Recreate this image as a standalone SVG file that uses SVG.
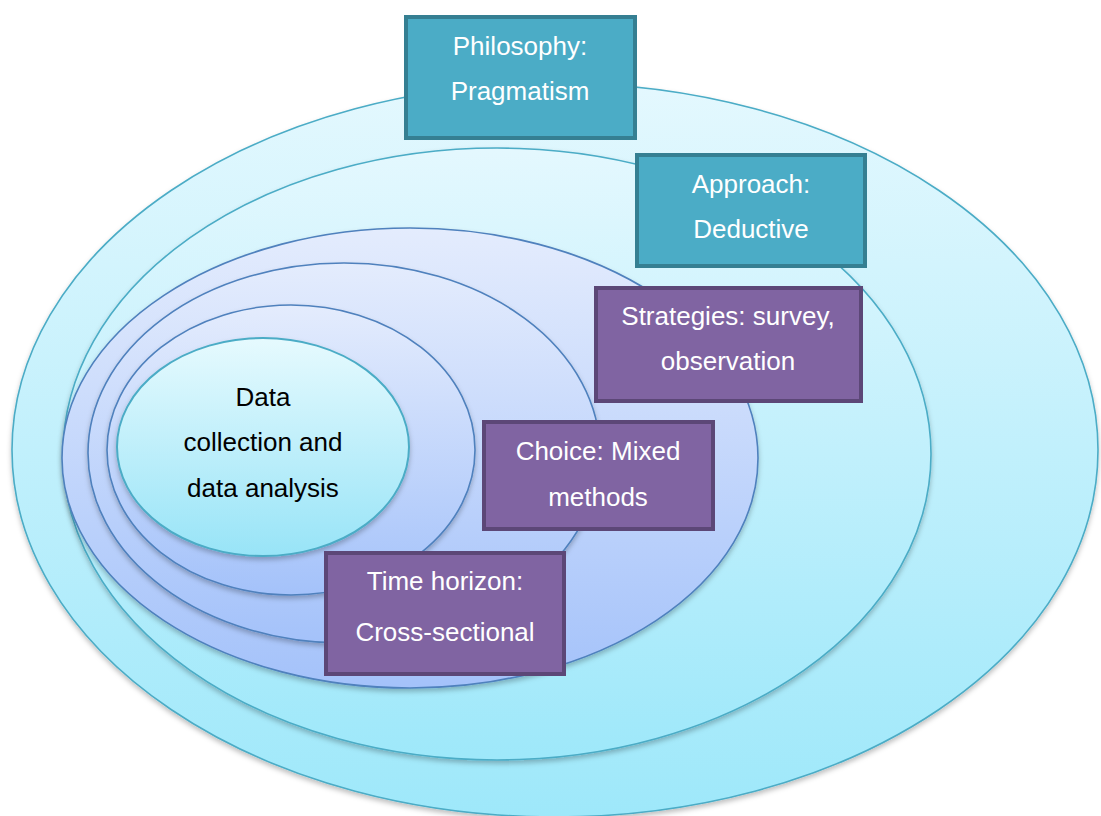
<svg xmlns="http://www.w3.org/2000/svg" width="1101" height="816" viewBox="0 0 1101 816">
<defs>
<linearGradient id="gCyan" x1="0" y1="0" x2="0" y2="1">
<stop offset="0" stop-color="#E4F8FE"/><stop offset="1" stop-color="#9EE8FA"/>
</linearGradient>
<linearGradient id="gBlue" x1="0" y1="0" x2="0" y2="1">
<stop offset="0" stop-color="#E4ECFD"/><stop offset="1" stop-color="#A4C2FA"/>
</linearGradient>
<linearGradient id="gCore" x1="0" y1="0" x2="0" y2="1">
<stop offset="0" stop-color="#E6FAFE"/><stop offset="1" stop-color="#98E4F7"/>
</linearGradient>
<filter id="sh" x="-10%" y="-10%" width="120%" height="125%">
<feDropShadow dx="0" dy="3" stdDeviation="2.5" flood-color="#000" flood-opacity="0.25"/>
</filter>
<style>
.oc{fill:url(#gCyan);stroke:#4BACC6;stroke-width:1.6;filter:url(#sh)}
.ob{fill:url(#gBlue);stroke:#4F81BD;stroke-width:1.6;filter:url(#sh)}
.core{fill:url(#gCore);stroke:#4BACC6;stroke-width:2;filter:url(#sh)}
.teal{fill:#4BACC6;stroke:#357F92;stroke-width:4}
.purp{fill:#8064A2;stroke:#5C4777;stroke-width:4}
.wt{font-family:"Liberation Sans",Arial,sans-serif;font-size:26px;fill:#fff;text-anchor:middle}
.bt{font-family:"Liberation Sans",Arial,sans-serif;font-size:26px;fill:#000;text-anchor:middle}
</style>
</defs>
<g id="layers">
<ellipse id="philosophy-layer" class="oc" cx="555" cy="450" rx="543" ry="367"/>
<ellipse id="approach-layer" class="oc" cx="497" cy="454" rx="434" ry="306"/>
<ellipse id="strategies-layer" class="ob" cx="410" cy="458" rx="348" ry="230"/>
<ellipse id="choice-layer" class="ob" cx="344" cy="453" rx="256" ry="190"/>
<ellipse id="time-layer" class="ob" cx="291" cy="450" rx="184" ry="145"/>
</g>
<g id="core">
<ellipse class="core" cx="263" cy="447" rx="146" ry="109"/>
<text class="bt" x="263" y="406">Data</text>
<text class="bt" x="263" y="451">collection and</text>
<text class="bt" x="263" y="497">data analysis</text>
</g>
<g id="philosophy">
<rect class="teal" x="406" y="17" width="229" height="121"/>
<text class="wt" x="520" y="55">Philosophy:</text>
<text class="wt" x="520" y="100">Pragmatism</text>
</g>
<g id="approach">
<rect class="teal" x="637" y="155" width="228" height="111"/>
<text class="wt" x="751" y="193">Approach:</text>
<text class="wt" x="751" y="238">Deductive</text>
</g>
<g id="strategies">
<rect class="purp" x="596" y="288" width="265" height="113"/>
<text class="wt" x="728" y="325">Strategies: survey,</text>
<text class="wt" x="728" y="370">observation</text>
</g>
<g id="choice">
<rect class="purp" x="484" y="422" width="229" height="107"/>
<text class="wt" x="598" y="460">Choice: Mixed</text>
<text class="wt" x="598" y="506">methods</text>
</g>
<g id="time">
<rect class="purp" x="326" y="553" width="238" height="121"/>
<text class="wt" x="445" y="590">Time horizon:</text>
<text class="wt" x="445" y="641">Cross-sectional</text>
</g>
<g id="connectors"/>
</svg>
